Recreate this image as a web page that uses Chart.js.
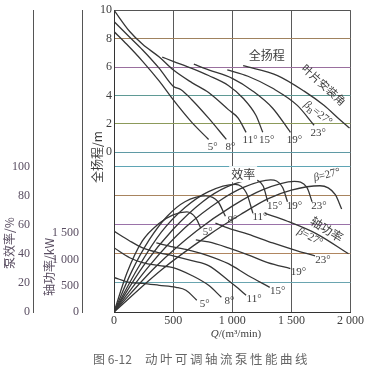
<!DOCTYPE html>
<html>
<head>
<meta charset="utf-8">
<script src="https://cdn.jsdelivr.net/npm/chart.js@4.4.0/dist/chart.umd.min.js"></script>
<style>
html, body { margin: 0; padding: 0; background: #fff; }
</style>
</head>
<body>
<canvas id="grafico" width="366" height="372"></canvas>
<script>
// ângulos das pás
const angulos = ['5°', '8°', '11°', '15°', '19°', '23°', '27°'];

// ticks dos eixos
const ticksQ = [0, 500, 1000, 1500, 2000];
const ticksAltura = [0, 2, 4, 6, 8, 10];
const ticksEficiencia = [0, 20, 40, 60, 80, 100];
const ticksPotencia = [0, 500, 1000, 1500];

// altura total (m) x vazão Q
const altura5 = [[0, 8.5], [108, 7.6], [242, 6.4], [383, 5.0], [500, 3.7], [658, 2.1], [800, 0.9]];
const altura8 = [[0, 9.2], [133, 8.1], [242, 7.2], [383, 5.9], [500, 4.65], [567, 4.4], [658, 3.7], [800, 2.4], [950, 0.9]];
const altura11 = [[0, 10.0], [133, 8.5], [242, 7.6], [383, 6.7], [500, 5.8], [658, 4.9], [800, 4.2], [967, 3.0], [1050, 2.4], [1117, 1.4]];
const altura15 = [[408, 6.7], [500, 6.4], [658, 5.9], [800, 5.4], [967, 4.7], [1092, 3.8], [1200, 2.6], [1258, 1.4]];
const altura19 = [[675, 6.2], [800, 5.8], [1000, 5.2], [1175, 4.3], [1342, 3.1], [1492, 1.4]];
const altura23 = [[958, 5.8], [1133, 5.35], [1342, 4.5], [1550, 3.3], [1692, 1.9]];
const altura27 = [[1092, 6.1], [1383, 5.4], [1608, 4.3], [1775, 3.3], [1908, 2.3], [1992, 1.7]];

// eficiência (%) x vazão Q
const eficiencia5 = [[0, 0], [110, 27], [240, 49], [380, 61], [500, 67], [617, 69], [690, 65], [733, 58]];
const eficiencia8 = [[0, 0], [150, 28], [300, 50], [450, 66], [600, 76], [775, 80], [880, 76], [942, 66]];
const eficiencia11 = [[0, 0], [200, 30], [400, 55], [600, 72], [800, 83], [1025, 88], [1120, 82], [1175, 68]];
const eficiencia15 = [[0, 0], [250, 32], [500, 57], [750, 76], [950, 86], [1175, 91], [1260, 87], [1300, 76]];
const eficiencia19 = [[0, 0], [300, 32], [600, 58], [900, 77], [1100, 86], [1325, 91], [1425, 86], [1467, 76]];
const eficiencia23 = [[0, 0], [350, 31], [700, 56], [1000, 73], [1250, 84], [1525, 90], [1630, 86], [1675, 76]];
const eficiencia27 = [[0, 0], [400, 29], [800, 53], [1067, 67], [1300, 78], [1500, 84], [1742, 87], [1870, 81], [1925, 71]];

// potência no eixo (kW) x vazão Q
const potencia5 = [[0, 657], [133, 563], [242, 544], [383, 507], [525, 469], [608, 413], [700, 225]];
const potencia8 = [[0, 1220], [133, 1032], [242, 938], [383, 882], [500, 844], [658, 694], [800, 507], [908, 281]];
const potencia11 = [[0, 1538], [133, 1351], [242, 1220], [383, 1126], [500, 1069], [658, 976], [800, 882], [967, 600], [1050, 450], [1117, 319]];
const potencia15 = [[358, 1313], [500, 1238], [658, 1163], [800, 1069], [967, 919], [1133, 694], [1317, 469]];
const potencia19 = [[692, 1370], [800, 1332], [967, 1220], [1133, 1088], [1300, 938], [1492, 826]];
const potencia23 = [[858, 1689], [967, 1595], [1133, 1482], [1342, 1313], [1550, 1163], [1700, 1069]];
const potencia27 = [[1275, 1876], [1467, 1726], [1717, 1482], [1983, 1107]];

const curvasAltura = [altura5, altura8, altura11, altura15, altura19, altura23, altura27];
const curvasEficiencia = [eficiencia5, eficiencia8, eficiencia11, eficiencia15, eficiencia19, eficiencia23, eficiencia27];
const curvasPotencia = [potencia5, potencia8, potencia11, potencia15, potencia19, potencia23, potencia27];

// estilos
const corLinha = '#363636';
const corTexto = '#3c3c3c';
const corEixoEsq = '#5a4e62';
const serif = '"Liberation Serif", "DejaVu Serif", serif';
const cjk = '"Noto Sans CJK SC", sans-serif';
const coresGradeAltura = ['#5f9aa5', '#8c9a5a', '#5f9a95', '#9a6f9e', '#a0825e', '#555555'];
const coresGradeEficiencia = ['#444444', '#6aa5b0', '#b08660', '#9a72a8', '#a8845e', '#5fa5b5'];

function formatarMilhar(v) {
    return v >= 1000 ? String(v).replace(/(\d)(\d{3})$/, '$1 $2') : String(v);
}

function criarCurva(pontos, eixo, grupo, indice) {
    return {
        data: pontos.map(p => ({ x: p[0], y: p[1] })),
        yAxisID: eixo,
        grupo: grupo,
        rotulo: angulos[indice],
        borderColor: corLinha,
        borderWidth: 1.3,
        pointRadius: 0,
        cubicInterpolationMode: 'monotone',
        fill: false
    };
}

const datasets = [];
curvasAltura.forEach((c, i) => datasets.push(criarCurva(c, 'yAltura', 'altura', i)));
curvasEficiencia.forEach((c, i) => datasets.push(criarCurva(c, 'yEficiencia', 'eficiencia', i)));
curvasPotencia.forEach((c, i) => datasets.push(criarCurva(c, 'yPotencia', 'potencia', i)));

// deslocamento dos rótulos de ângulo em relação ao fim de cada curva
const deslocamentos = {
    altura: [4, 8],
    eficiencia: [7, 4],
    potencia: [8, 4]
};

function escreverRotacionado(ctx, texto, x, y, angulo) {
    ctx.save();
    ctx.translate(x, y);
    ctx.rotate(angulo * Math.PI / 180);
    ctx.fillText(texto, 0, 0);
    ctx.restore();
}

function escreverBeta(ctx, x, y, angulo, indice) {
    ctx.save();
    ctx.translate(x, y);
    ctx.rotate(angulo * Math.PI / 180);
    ctx.textAlign = 'left';
    ctx.font = 'italic 11px ' + serif;
    const largura = ctx.measureText('β').width;
    let totalIndice = 0;
    if (indice) {
        ctx.font = '8px ' + serif;
        totalIndice = ctx.measureText(indice).width;
    }
    ctx.font = '11px ' + serif;
    const resto = '=27°';
    const total = largura + totalIndice + ctx.measureText(resto).width;
    let px = -total / 2;
    ctx.font = 'italic 11px ' + serif;
    ctx.fillText('β', px, 0);
    px += largura;
    if (indice) {
        ctx.font = '8px ' + serif;
        ctx.fillText(indice, px, 4);
        px += totalIndice;
    }
    ctx.font = '11px ' + serif;
    ctx.fillText(resto, px, 0);
    ctx.restore();
}

const pluginTextos = {
    id: 'textos',
    afterDatasetsDraw(chart) {
        const { ctx, scales } = chart;
        const x = scales.x;
        ctx.save();
        ctx.fillStyle = corTexto;
        ctx.textBaseline = 'middle';
        ctx.textAlign = 'center';

        // rótulos de ângulo no fim das curvas (o 27° tem rótulo próprio)
        chart.data.datasets.forEach((ds, i) => {
            if (ds.rotulo === '27°') return;
            const meta = chart.getDatasetMeta(i);
            const ultimo = meta.data[meta.data.length - 1];
            const d = deslocamentos[ds.grupo];
            ctx.font = '11px ' + serif;
            ctx.fillText(ds.rotulo, ultimo.x + d[0], ultimo.y + d[1]);
        });

        const yA = scales.yAltura, yE = scales.yEficiencia, yP = scales.yPotencia;

        // nomes das famílias de curvas
        ctx.font = '12px ' + cjk;
        ctx.fillText('全扬程', x.getPixelForValue(1292), yA.getPixelForValue(6.8));

        const ex = x.getPixelForValue(1092), ey = yE.getPixelForValue(95);
        ctx.fillStyle = '#fff';
        ctx.fillRect(ex - 14, ey - 8, 28, 16);
        ctx.fillStyle = corTexto;
        ctx.fillText('效率', ex, ey);

        ctx.font = '11px ' + cjk;
        escreverRotacionado(ctx, '叶片安装角', x.getPixelForValue(1775), yA.getPixelForValue(4.75), 42);
        escreverBeta(ctx, x.getPixelForValue(1725), yA.getPixelForValue(2.75), 38, 'B');

        ctx.font = '12px ' + cjk;
        escreverRotacionado(ctx, '轴功率', x.getPixelForValue(1800), yP.getPixelForValue(1576), 32);
        escreverBeta(ctx, x.getPixelForValue(1658), yP.getPixelForValue(1426), 28, '');
        escreverBeta(ctx, x.getPixelForValue(1800), yE.getPixelForValue(94.5), -14, '');

        // título do eixo x
        ctx.font = 'italic 11px ' + serif;
        const wQ = ctx.measureText('Q').width;
        ctx.font = '11px ' + serif;
        const restoQ = '/(m³/min)';
        const wR = ctx.measureText(restoQ).width;
        const xq = 236 - (wQ + wR) / 2;
        ctx.textAlign = 'left';
        ctx.font = 'italic 11px ' + serif;
        ctx.fillText('Q', xq, 334);
        ctx.font = '11px ' + serif;
        ctx.fillText(restoQ, xq + wQ, 334);

        // títulos dos eixos à esquerda
        ctx.textAlign = 'center';
        ctx.fillStyle = corEixoEsq;
        ctx.font = '12px ' + cjk;
        escreverRotacionado(ctx, '泵效率/%', 9, 243, -90);
        escreverRotacionado(ctx, '轴功率/kW', 49, 267, -90);
        ctx.fillStyle = corTexto;
        escreverRotacionado(ctx, '全扬程/m', 97, 157, -90);

        // legenda da figura
        ctx.textAlign = 'left';
        ctx.fillStyle = '#666';
        ctx.font = '12px ' + cjk;
        ctx.fillText('图 6-12', 93, 359);
        ctx.font = '12.5px ' + cjk;
        ctx.letterSpacing = '2.5px';
        ctx.fillText('动叶可调轴流泵性能曲线', 145, 359);
        ctx.restore();
    }
};

new Chart(document.getElementById('grafico'), {
    type: 'line',
    data: { datasets: datasets },
    options: {
        responsive: false,
        animation: false,
        devicePixelRatio: 1,
        layout: { padding: { top: 6, right: 12, bottom: 0, left: 0 } },
        plugins: { legend: { display: false }, tooltip: { enabled: false } },
        scales: {
            x: {
                type: 'linear',
                min: 0,
                max: 2000,
                afterBuildTicks: s => { s.ticks = ticksQ.map(v => ({ value: v })); },
                afterFit: s => { s.height = 60; },
                ticks: {
                    callback: v => formatarMilhar(v),
                    font: { family: serif, size: 12 },
                    color: corTexto,
                    padding: 2,
                    maxRotation: 0
                },
                grid: { color: '#5a5a5a', drawTicks: false, lineWidth: 1 },
                border: { color: '#333' }
            },
            yAltura: {
                position: 'left',
                weight: 0,
                min: -11.25,
                max: 10,
                afterBuildTicks: s => { s.ticks = ticksAltura.map(v => ({ value: v })); },
                afterFit: s => { s.width = 32; },
                ticks: {
                    font: { family: serif, size: 12 },
                    color: corTexto,
                    padding: 2
                },
                grid: { color: coresGradeAltura, drawTicks: false },
                border: { color: '#333' }
            },
            yPotencia: {
                position: 'left',
                weight: 1,
                min: 0,
                max: 5740,
                afterBuildTicks: s => { s.ticks = ticksPotencia.map(v => ({ value: v })); },
                afterFit: s => { s.width = 49; },
                ticks: {
                    callback: v => formatarMilhar(v),
                    font: { family: serif, size: 12 },
                    color: corEixoEsq,
                    padding: 3
                },
                grid: { drawOnChartArea: false, drawTicks: false },
                border: { color: '#555' }
            },
            yEficiencia: {
                position: 'left',
                weight: 2,
                min: 0,
                max: 208,
                afterBuildTicks: s => { s.ticks = ticksEficiencia.map(v => ({ value: v })); },
                afterFit: s => { s.width = 33; },
                ticks: {
                    font: { family: serif, size: 12 },
                    color: corEixoEsq,
                    padding: 3
                },
                grid: { color: coresGradeEficiencia, drawTicks: false },
                border: { color: '#555' }
            }
        }
    },
    plugins: [pluginTextos]
});
</script>
</body>
</html>
